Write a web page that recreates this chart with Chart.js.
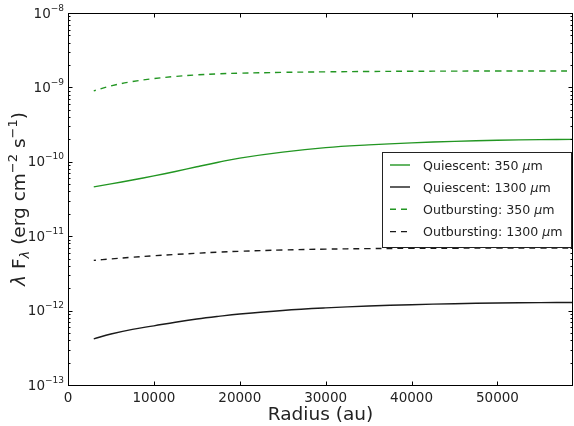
<!DOCTYPE html>
<html>
<head>
<meta charset="utf-8">
<script src="https://cdn.jsdelivr.net/npm/chart.js@4"></script>
<style>
  html, body { margin: 0; padding: 0; background: #fff; }
  canvas { display: block; }
</style>
</head>
<body>
<canvas id="c" width="574" height="426"></canvas>
<script>
// Radial samples (au) and spectral flux density (erg cm^-2 s^-1)
const radius = [3000, 5000, 7500, 10000, 12500, 15000, 17500, 20000, 25000, 30000, 35000, 40000, 45000, 50000, 55000, 58800];
const quiescent350 = [4.60e-11, 5.05e-11, 5.69e-11, 6.46e-11, 7.41e-11, 8.57e-11, 9.86e-11, 1.122e-10, 1.349e-10, 1.549e-10, 1.687e-10, 1.799e-10, 1.884e-10, 1.945e-10, 1.986e-10, 2.0e-10];
const quiescent1300 = [4.17e-13, 4.84e-13, 5.60e-13, 6.24e-13, 6.98e-13, 7.70e-13, 8.36e-13, 8.99e-13, 1.005e-12, 1.087e-12, 1.152e-12, 1.201e-12, 1.238e-12, 1.264e-12, 1.279e-12, 1.285e-12];
const outbursting350 = [8.99e-10, 1.047e-9, 1.197e-9, 1.312e-9, 1.403e-9, 1.472e-9, 1.521e-9, 1.552e-9, 1.592e-9, 1.618e-9, 1.637e-9, 1.648e-9, 1.656e-9, 1.662e-9, 1.663e-9, 1.665e-9];
const outbursting1300 = [4.73e-12, 4.95e-12, 5.21e-12, 5.46e-12, 5.69e-12, 5.90e-12, 6.10e-12, 6.27e-12, 6.53e-12, 6.70e-12, 6.81e-12, 6.87e-12, 6.90e-12, 6.92e-12, 6.93e-12, 6.93e-12];

const xTicks = [0, 10000, 20000, 30000, 40000, 50000];
const yTickExponents = [-13, -12, -11, -10, -9, -8];
const xMax = 58800;

const GREEN = 'rgb(34,150,34)';
const BLACK = '#1a1a1a';
const DASH = [6, 5];
const FONT = '"DejaVu Sans", sans-serif';

function series(values) {
  return values.map((v, i) => ({ x: radius[i], y: v }));
}

const seriesDefs = [
  { label: 'Quiescent: 350 ', data: quiescent350, color: GREEN, dash: [] },
  { label: 'Quiescent: 1300 ', data: quiescent1300, color: BLACK, dash: [] },
  { label: 'Outbursting: 350 ', data: outbursting350, color: GREEN, dash: DASH },
  { label: 'Outbursting: 1300 ', data: outbursting1300, color: BLACK, dash: DASH }
];

// Axes frame, ticks, tick labels, axis titles and the legend box
const decorations = {
  id: 'decorations',
  afterDraw(chart) {
    const ctx = chart.ctx;
    const a = chart.chartArea;
    const xs = chart.scales.x, ys = chart.scales.y;
    const L = Math.round(a.left) + 0.5, R = Math.round(a.right) - 0.5;
    const T = Math.round(a.top) + 0.5, B = Math.round(a.bottom) + 0.5;
    ctx.save();

    // ticks
    ctx.strokeStyle = '#000';
    ctx.lineWidth = 1;
    ctx.beginPath();
    xTicks.forEach(v => {
      const px = Math.round(xs.getPixelForValue(v)) + 0.5;
      ctx.moveTo(px, B); ctx.lineTo(px, B - 4);
      ctx.moveTo(px, T); ctx.lineTo(px, T + 4);
    });
    yTickExponents.forEach(e => {
      const py = Math.round(ys.getPixelForValue(Math.pow(10, e))) + 0.5;
      ctx.moveTo(L, py); ctx.lineTo(L + 4, py);
      ctx.moveTo(R, py); ctx.lineTo(R - 4, py);
      if (e < yTickExponents[yTickExponents.length - 1]) {
        for (let m = 2; m <= 9; m++) {
          const pm = Math.round(ys.getPixelForValue(m * Math.pow(10, e))) + 0.5;
          ctx.moveTo(L, pm); ctx.lineTo(L + 2, pm);
          ctx.moveTo(R, pm); ctx.lineTo(R - 2, pm);
        }
      }
    });
    ctx.stroke();

    // frame
    ctx.strokeStyle = '#000';
    ctx.strokeRect(L, T, R - L, B - T);

    ctx.fillStyle = '#222';
    // x tick labels
    ctx.font = '13.5px ' + FONT;
    ctx.textAlign = 'center';
    ctx.textBaseline = 'alphabetic';
    xTicks.forEach(v => {
      ctx.fillText(String(v), xs.getPixelForValue(v), a.bottom + 16.5);
    });

    // y tick labels: 10 with superscript exponent
    yTickExponents.forEach(e => {
      const py = ys.getPixelForValue(Math.pow(10, e));
      const sup = '\u2212' + String(-e);
      ctx.font = '9px ' + FONT;
      const ws = ctx.measureText(sup).width;
      ctx.font = '13.5px ' + FONT;
      const wb = ctx.measureText('10').width;
      const right = a.left - 4;
      ctx.textAlign = 'left';
      ctx.fillText('10', right - ws - wb, py + 4.5);
      ctx.font = '9px ' + FONT;
      ctx.fillText(sup, right - ws, py - 2.5);
    });

    // x axis title
    ctx.font = '18.5px ' + FONT;
    ctx.textAlign = 'center';
    ctx.fillText('Radius (au)', (a.left + a.right) / 2, 419.5);

    // y axis title (rotated), with sub- and superscripts
    const parts = [
      { t: '\u03bb', f: 'italic 18.5px ' + FONT, dy: 0 },
      { t: ' F', f: '18.5px ' + FONT, dy: 0 },
      { t: '\u03bb', f: 'italic 13px ' + FONT, dy: 4 },
      { t: ' (erg cm', f: '18.5px ' + FONT, dy: 0 },
      { t: '\u22122', f: '13px ' + FONT, dy: -8 },
      { t: ' s', f: '18.5px ' + FONT, dy: 0 },
      { t: '\u22121', f: '13px ' + FONT, dy: -8 },
      { t: ')', f: '18.5px ' + FONT, dy: 0 }
    ];
    let total = 0;
    parts.forEach(p => { ctx.font = p.f; p.w = ctx.measureText(p.t).width; total += p.w; });
    ctx.save();
    ctx.translate(24.5, 199);
    ctx.rotate(-Math.PI / 2);
    ctx.textAlign = 'left';
    let cx = -total / 2;
    parts.forEach(p => { ctx.font = p.f; ctx.fillText(p.t, cx, p.dy); cx += p.w; });
    ctx.restore();

    // legend
    const bx = 382.5, by = 152.5, bw = 189, bh = 95;
    ctx.fillStyle = '#fff';
    ctx.fillRect(bx, by, bw, bh);
    ctx.strokeStyle = '#222';
    ctx.lineWidth = 1;
    ctx.strokeRect(bx, by, bw, bh);
    const rows = [165, 187, 209.3, 231.6];
    seriesDefs.forEach((s, i) => {
      const ry = rows[i];
      ctx.beginPath();
      ctx.strokeStyle = s.color;
      ctx.lineWidth = 1.4;
      ctx.setLineDash(s.dash);
      ctx.moveTo(390, ry); ctx.lineTo(410, ry);
      ctx.stroke();
      ctx.setLineDash([]);
      ctx.fillStyle = '#222';
      ctx.font = '12.6px ' + FONT;
      ctx.textAlign = 'left';
      let tx = 423;
      ctx.fillText(s.label, tx, ry + 4.5);
      tx += ctx.measureText(s.label).width;
      ctx.font = 'italic 12.6px ' + FONT;
      ctx.fillText('\u03bc', tx, ry + 4.5);
      tx += ctx.measureText('\u03bc').width;
      ctx.font = '12.6px ' + FONT;
      ctx.fillText('m', tx, ry + 4.5);
    });
    ctx.restore();
  }
};

new Chart(document.getElementById('c'), {
  type: 'line',
  data: {
    datasets: seriesDefs.map(s => ({
      label: s.label + '\u03bcm',
      data: series(s.data),
      borderColor: s.color,
      backgroundColor: s.color,
      borderWidth: 1.4,
      borderDash: s.dash,
      borderDashOffset: s.dash.length ? 4 : 0,
      pointRadius: 0,
      fill: false,
      tension: 0.4
    }))
  },
  options: {
    responsive: false,
    animation: false,
    devicePixelRatio: 1,
    layout: { padding: { left: 68, top: 13, right: 1, bottom: 41 } },
    plugins: { legend: { display: false }, tooltip: { enabled: false } },
    scales: {
      x: { type: 'linear', min: 0, max: xMax, display: false },
      y: { type: 'logarithmic', min: 1e-13, max: 1e-8, display: false }
    }
  },
  plugins: [decorations]
});
</script>
</body>
</html>
